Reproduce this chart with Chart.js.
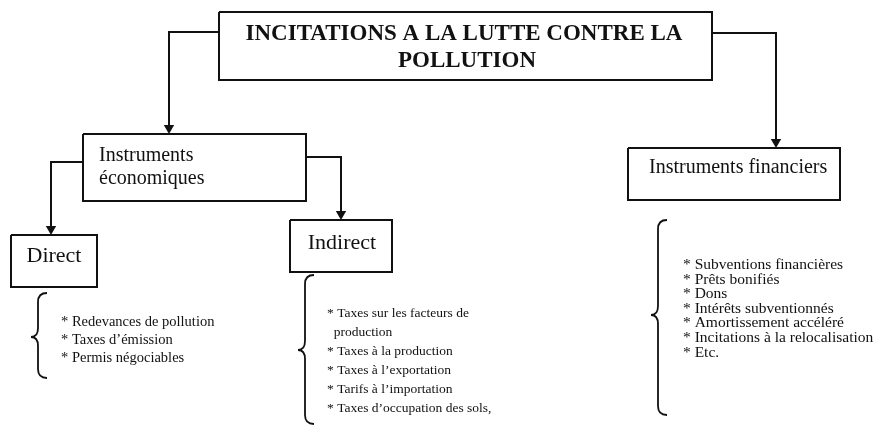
<!DOCTYPE html>
<html lang="fr">
<head>
<meta charset="utf-8">
<title>Incitations à la lutte contre la pollution</title>
<script src="https://cdn.jsdelivr.net/npm/chart.js@4.4.1/dist/chart.umd.min.js"></script>
<style>
    body { margin: 0; background: #fff; }
    #zone { width: 886px; height: 427px; }
</style>
</head>
<body>
<div id="zone"><canvas id="schema"></canvas></div>
<script>
// Textes du schéma
const titreLignes = ['INCITATIONS A LA LUTTE CONTRE LA', 'POLLUTION'];
const instrumentsEco = ['Instruments', 'économiques'];
const instrumentsFin = ['Instruments financiers'];
const categories = ['Direct', 'Indirect'];

const itemsDirect = [
    '* Redevances de pollution',
    '* Taxes d’émission',
    '* Permis négociables'
];
const itemsIndirect = [
    '* Taxes sur les facteurs de',
    '  production',
    '* Taxes à la production',
    '* Taxes à l’exportation',
    '* Tarifs à l’importation',
    '* Taxes d’occupation des sols,'
];
const itemsFinanciers = [
    '* Subventions financières',
    '* Prêts bonifiés',
    '* Dons',
    '* Intérêts subventionnés',
    '* Amortissement accéléré',
    '* Incitations à la relocalisation',
    '* Etc.'
];

// Disposition (unités des axes, 1 unité = 1 px)
const boites = {
    titre: { x1: 219, y1: 12, x2: 712, y2: 80 },
    eco: { x1: 83, y1: 134, x2: 306, y2: 201 },
    fin: { x1: 628, y1: 148, x2: 840, y2: 200 },
    direct: { x1: 11, y1: 235, x2: 97, y2: 287 },
    indirect: { x1: 290, y1: 220, x2: 392, y2: 272 }
};

const fleches = [
    [[219, 32], [169, 32], [169, 134]],
    [[712, 33], [776, 33], [776, 148]],
    [[83, 162], [51, 162], [51, 235]],
    [[306, 157], [341, 157], [341, 220]]
];

const accolades = [
    { x: 38, haut: 293, bas: 378, pointe: 337 },
    { x: 305, haut: 275, bas: 424, pointe: 350 },
    { x: 658, haut: 220, bas: 415, pointe: 315 }
];

const listes = [
    { items: itemsDirect, x: 61, y: 322, pas: 18, taille: 14.5 },
    { items: itemsIndirect, x: 327, y: 313, pas: 19, taille: 13.5 },
    { items: itemsFinanciers, x: 683, y: 265, pas: 14.6, taille: 15.5 }
];

const encre = '#111';
const police = '"Liberation Serif", "DejaVu Serif", serif';

// Datasets : cadres et flèches
const datasets = [];
Object.keys(boites).forEach(function(cle) {
    const b = boites[cle];
    datasets.push({
        data: [
            { x: b.x1, y: b.y1 }, { x: b.x2, y: b.y1 },
            { x: b.x2, y: b.y2 }, { x: b.x1, y: b.y2 }, { x: b.x1, y: b.y1 }
        ],
        showLine: true,
        borderColor: encre,
        borderWidth: 2,
        borderJoinStyle: 'miter',
        pointRadius: 0
    });
});

fleches.forEach(function(f) {
    const pts = f.map(function(p) { return { x: p[0], y: p[1] }; });
    pts[pts.length - 1].y -= 6; // la pointe du triangle touche le cadre
    datasets.push({
        data: pts,
        showLine: true,
        borderColor: encre,
        borderWidth: 2,
        borderJoinStyle: 'miter',
        pointStyle: 'triangle',
        pointRotation: 180,
        pointRadius: pts.map(function(p, i) { return i === pts.length - 1 ? 6 : 0; }),
        pointBackgroundColor: encre,
        pointBorderColor: encre,
        pointBorderWidth: 0
    });
});

// Plugin : textes et accolades
const textesPlugin = {
    id: 'textes',
    afterDatasetsDraw: function(chart) {
        const ctx = chart.ctx;
        const sx = chart.scales.x;
        const sy = chart.scales.y;
        const px = function(v) { return sx.getPixelForValue(v); };
        const py = function(v) { return sy.getPixelForValue(v); };

        ctx.save();
        ctx.fillStyle = encre;
        ctx.strokeStyle = encre;
        ctx.textBaseline = 'middle';

        // Titre
        ctx.font = 'bold 23px ' + police;
        ctx.textAlign = 'center';
        ctx.fillText(titreLignes[0], px(464), py(34));
        ctx.fillText(titreLignes[1], px(467), py(61));

        // Boîtes
        ctx.font = '20px ' + police;
        ctx.textAlign = 'left';
        ctx.fillText(instrumentsEco[0], px(99), py(156));
        ctx.fillText(instrumentsEco[1], px(99), py(179));
        ctx.fillText(instrumentsFin[0], px(649), py(168));
        ctx.font = '22px ' + police;
        ctx.textAlign = 'center';
        ctx.fillText(categories[0], px(54), py(256));
        ctx.fillText(categories[1], px(342), py(243));

        // Listes
        ctx.textAlign = 'left';
        listes.forEach(function(l) {
            ctx.font = l.taille + 'px ' + police;
            l.items.forEach(function(t, i) {
                ctx.fillText(t, px(l.x), py(l.y + i * l.pas));
            });
        });

        // Accolades
        ctx.lineWidth = 1.8;
        accolades.forEach(function(a) {
            const x = px(a.x), h = py(a.haut), b = py(a.bas), m = py(a.pointe);
            const w = 9, p = 7;
            ctx.beginPath();
            ctx.moveTo(x + w, h);
            ctx.quadraticCurveTo(x, h, x, h + w);
            ctx.lineTo(x, m - w);
            ctx.quadraticCurveTo(x, m, x - p, m);
            ctx.quadraticCurveTo(x, m, x, m + w);
            ctx.lineTo(x, b - w);
            ctx.quadraticCurveTo(x, b, x + w, b);
            ctx.stroke();
        });
        ctx.restore();
    }
};

const ctx = document.getElementById('schema').getContext('2d');
new Chart(ctx, {
    type: 'scatter',
    data: { datasets: datasets },
    options: {
        responsive: true,
        maintainAspectRatio: false,
        animation: false,
        layout: { padding: 0, autoPadding: false },
        plugins: {
            legend: { display: false },
            tooltip: { enabled: false }
        },
        scales: {
            x: { type: 'linear', min: 0, max: 886, display: false },
            y: { type: 'linear', min: 0, max: 427, reverse: true, display: false }
        }
    },
    plugins: [textesPlugin]
});
</script>
</body>
</html>
